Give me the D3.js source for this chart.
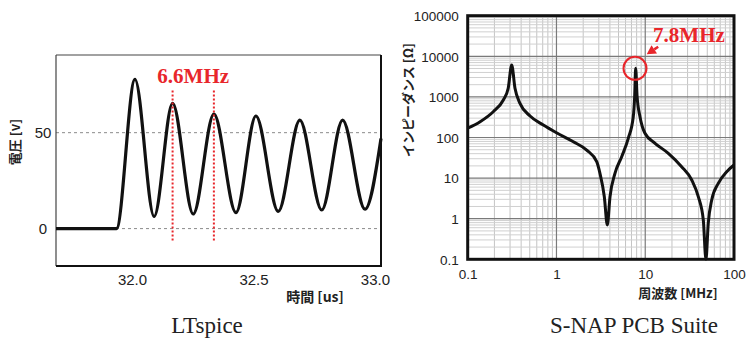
<!DOCTYPE html>
<html><head><meta charset="utf-8">
<script src="https://cdn.jsdelivr.net/npm/d3@7"></script>
<style>body{margin:0;background:#fff} svg{display:block}</style>
</head><body><svg id="c" width="748" height="340"></svg>
<script>
// ---------- Left chart (LTspice) data ----------
const timeUs  = [31.687, 31.936, 32.012, 32.091, 32.167, 32.252, 32.337, 32.428, 32.510, 32.602, 32.691, 32.781, 32.867, 32.959, 33.025];
const voltage = [0, 0, 77.8, 6.3, 65.3, 7.6, 59.7, 8.3, 58.7, 9.0, 56.6, 9.7, 56.6, 10.1, 47];
const voltTicks = [0, 50];
const timeTicks = [32.0, 32.5, 33.0];
const markerTimes = [32.167, 32.337];
const markerLabel = "6.6MHz";
const leftXTitle = "時間 [us]";
const leftYTitle = "電圧 [v]";

// ---------- Right chart (S-NAP) data ----------
const freqMHz = [0.1, 0.138, 0.194, 0.252, 0.286, 0.313, 0.341, 0.388, 0.504, 0.711, 1.0, 1.55, 2.19, 2.84, 3.09, 3.46, 3.74, 4.01, 4.56, 5.43, 6.44, 7.33, 7.6, 7.8, 8.1, 8.73, 9.93, 12.9, 18.2, 25.7, 33.4, 39.6, 45.1, 48.3, 51.3, 56.1, 66.5, 82.8, 100];
const impedance = [169, 245, 432, 839, 1630, 6100, 1630, 695, 339, 203, 131, 78.8, 49, 25.4, 13.1, 3.48, 0.70, 3.48, 13.1, 33.7, 95.5, 325, 1010, 5060, 1010, 325, 127, 72, 40.8, 19.1, 8.98, 3.48, 0.93, 0.1, 0.78, 2.89, 7.45, 14.4, 21];
const freqTicks = [0.1, 1, 10, 100];
const freqTickLabels = ["0.1", "1", "10", "100"];
const impTicks = [0.1, 1, 10, 100, 1000, 10000, 100000];
const impTickLabels = ["0.1", "1", "10", "100", "1000", "10000", "100000"];
const peakLabel = "7.8MHz";
const rightXTitle = "周波数 [MHz]";
const rightYTitle = "インピーダンス [Ω]";
const captions = ["LTspice", "S-NAP PCB Suite"];

const svg = d3.select("#c");
const RED = "#e8262b";
const JP = "'Noto Sans CJK JP', 'Noto Sans', sans-serif";
const SANS = "'Liberation Sans', Arial, sans-serif";
const SERIF = "'Liberation Serif', 'Times New Roman', serif";

// ================= LEFT =================
const L = {l: 56, t: 55, r: 381, b: 266};
const x1 = d3.scaleLinear().domain([31.687, 33.025]).range([L.l, L.r]);
const y1 = d3.scaleLinear().domain([-19.5, 90.5]).range([L.b, L.t]);
const g1 = svg.append("g");

g1.append("rect").attr("x", L.l).attr("y", L.t).attr("width", L.r - L.l).attr("height", L.b - L.t).attr("fill", "#fff");

// dashed grid
g1.selectAll(".hg").data(voltTicks).join("line")
  .attr("x1", L.l).attr("x2", L.r).attr("y1", d => y1(d)).attr("y2", d => y1(d))
  .attr("stroke", "#8a8a8a").attr("stroke-width", 1).attr("stroke-dasharray", "3,3");

// frame
g1.append("line").attr("x1", L.l).attr("x2", L.l).attr("y1", L.t).attr("y2", L.b).attr("stroke", "#444").attr("stroke-width", 1.2);
g1.append("line").attr("x1", L.l).attr("x2", L.r).attr("y1", L.t).attr("y2", L.t).attr("stroke", "#444").attr("stroke-width", 1.2);
g1.append("line").attr("x1", L.r).attr("x2", L.r).attr("y1", L.t).attr("y2", L.b).attr("stroke", "#111").attr("stroke-width", 2);
g1.append("line").attr("x1", L.l).attr("x2", L.r + 1).attr("y1", L.b).attr("y2", L.b).attr("stroke", "#111").attr("stroke-width", 2.2);

// axes (labels via d3 axes)
const xAx1 = d3.axisBottom(x1).tickValues(timeTicks).tickFormat(d3.format(".1f")).tickSize(0).tickPadding(0);
const gx1 = g1.append("g").attr("transform", `translate(0,${L.b})`).call(xAx1);
gx1.select(".domain").remove();
gx1.selectAll("text").attr("dy", 0).attr("y", 19).attr("font-family", SANS).attr("font-size", 15).attr("fill", "#222");

const yAx1 = d3.axisLeft(y1).tickValues(voltTicks).tickSize(0).tickPadding(0);
const gy1 = g1.append("g").attr("transform", `translate(${L.l},0)`).call(yAx1);
gy1.select(".domain").remove();
gy1.selectAll("text").attr("x", -13).attr("text-anchor", "middle").attr("dy", "0.35em").attr("font-family", SANS).attr("font-size", 15).attr("fill", "#222");

// waveform
const line1 = d3.line().x((d, i) => x1(timeUs[i])).y((d, i) => y1(voltage[i])).curve(d3.curveMonotoneX);
g1.append("path").attr("d", line1(voltage)).attr("fill", "none").attr("stroke", "#111").attr("stroke-width", 3.2).attr("stroke-linejoin", "round");

// red markers
g1.selectAll(".mk").data(markerTimes).join("line")
  .attr("x1", d => x1(d)).attr("x2", d => x1(d)).attr("y1", y1(72)).attr("y2", y1(-6.8))
  .attr("stroke", RED).attr("stroke-width", 2).attr("stroke-dasharray", "2,2");
g1.append("text").attr("x", x1(d3.mean(markerTimes))).attr("y", y1(76))
  .attr("text-anchor", "middle").attr("font-family", SERIF).attr("font-weight", "bold").attr("font-size", 21)
  .attr("fill", RED).text(markerLabel);

// titles
g1.append("text").attr("x", 315).attr("y", 302).attr("text-anchor", "middle")
  .attr("font-family", JP).attr("font-weight", "bold").attr("font-size", 14).attr("fill", "#222").text(leftXTitle);
g1.append("text").attr("transform", "translate(20,142) rotate(-90)").attr("text-anchor", "middle")
  .attr("font-family", JP).attr("font-weight", "bold").attr("font-size", 13).attr("fill", "#222").text(leftYTitle);

// ================= RIGHT =================
const R = {l: 467.7, t: 15.7, r: 734, b: 259.3};
const x2 = d3.scaleLog().domain([0.1, 100]).range([R.l, R.r]);
const y2 = d3.scaleLog().domain([0.1, 100000]).range([R.b, R.t]);
const g2 = svg.append("g");
g2.append("rect").attr("x", R.l).attr("y", R.t).attr("width", R.r - R.l).attr("height", R.b - R.t).attr("fill", "#fff");

const minorX = [], minorY = [];
[0.1, 1, 10].forEach(d => { for (let m = 2; m <= 9; m++) minorX.push(d * m); });
[0.1, 1, 10, 100, 1000, 10000].forEach(d => { for (let m = 2; m <= 9; m++) minorY.push(d * m); });

g2.selectAll(".mx").data(minorX).join("line")
  .attr("x1", d => x2(d)).attr("x2", d => x2(d)).attr("y1", R.t).attr("y2", R.b)
  .attr("stroke", "#c4c4c4").attr("stroke-width", 1);
g2.selectAll(".my").data(minorY).join("line")
  .attr("x1", R.l).attr("x2", R.r).attr("y1", d => y2(d)).attr("y2", d => y2(d))
  .attr("stroke", "#d0d0d0").attr("stroke-width", 1);
g2.selectAll(".Mx").data(freqTicks).join("line")
  .attr("x1", d => x2(d)).attr("x2", d => x2(d)).attr("y1", R.t).attr("y2", R.b)
  .attr("stroke", "#7a7a7a").attr("stroke-width", 1.2);
g2.selectAll(".My").data(impTicks).join("line")
  .attr("x1", R.l).attr("x2", R.r).attr("y1", d => y2(d)).attr("y2", d => y2(d))
  .attr("stroke", "#7a7a7a").attr("stroke-width", 1.2);

// curve
const line2 = d3.line().x((d, i) => x2(freqMHz[i])).y((d, i) => y2(impedance[i])).curve(d3.curveMonotoneX);
g2.append("path").attr("d", line2(impedance)).attr("fill", "none").attr("stroke", "#111").attr("stroke-width", 3).attr("stroke-linejoin", "round");

// frame
g2.append("rect").attr("x", R.l).attr("y", R.t).attr("width", R.r - R.l).attr("height", R.b - R.t)
  .attr("fill", "none").attr("stroke", "#111").attr("stroke-width", 3);

// axes
const xAx2 = d3.axisBottom(x2).tickValues(freqTicks).tickFormat((d, i) => freqTickLabels[i]).tickSize(0).tickPadding(0);
const gx2 = g2.append("g").attr("transform", `translate(0,${R.b})`).call(xAx2);
gx2.select(".domain").remove();
gx2.selectAll("text").attr("dy", 0).attr("y", 20).attr("font-family", SANS).attr("font-size", 13.5).attr("fill", "#222");

const yAx2 = d3.axisLeft(y2).tickValues(impTicks).tickFormat((d, i) => impTickLabels[i]).tickSize(0).tickPadding(0);
const gy2 = g2.append("g").attr("transform", `translate(${R.l},0)`).call(yAx2);
gy2.select(".domain").remove();
gy2.selectAll("text").attr("x", -9).attr("dy", "0.35em").attr("font-family", SANS).attr("font-size", 13.5).attr("fill", "#222");

// annotation
g2.append("circle").attr("cx", x2(7.67)).attr("cy", y2(5060)).attr("r", 11.5)
  .attr("fill", "none").attr("stroke", RED).attr("stroke-width", 2);
const tail = [x2(14.0), y2(17200)], tip = [x2(10.4), y2(11200)];
const ang = Math.atan2(tip[1] - tail[1], tip[0] - tail[0]);
const hl = 9, hw = 5;
const base = [tip[0] - hl * Math.cos(ang), tip[1] - hl * Math.sin(ang)];
g2.append("line").attr("x1", tail[0]).attr("y1", tail[1]).attr("x2", base[0]).attr("y2", base[1])
  .attr("stroke", RED).attr("stroke-width", 2.5);
g2.append("path").attr("d", `M${tip[0]},${tip[1]} L${base[0] - hw * Math.sin(ang)},${base[1] + hw * Math.cos(ang)} L${base[0] + hw * Math.sin(ang)},${base[1] - hw * Math.cos(ang)} Z`)
  .attr("fill", RED);
g2.append("text").attr("x", x2(31.1)).attr("y", y2(22900)).attr("text-anchor", "middle")
  .attr("font-family", SERIF).attr("font-weight", "bold").attr("font-size", 21).attr("fill", RED).text(peakLabel);

// titles
g2.append("text").attr("x", 678).attr("y", 298).attr("text-anchor", "middle")
  .attr("font-family", JP).attr("font-weight", "bold").attr("font-size", 13).attr("fill", "#222").text(rightXTitle);
g2.append("text").attr("transform", "translate(413,100) rotate(-90)").attr("text-anchor", "middle")
  .attr("font-family", JP).attr("font-weight", "bold").attr("font-size", 13).attr("fill", "#222").text(rightYTitle);

// captions
svg.selectAll(".cap").data(captions).join("text")
  .attr("x", (d, i) => [207, 634][i]).attr("y", 333).attr("text-anchor", "middle")
  .attr("font-family", SERIF).attr("font-size", 23).attr("fill", "#222").text(d => d);
</script></body></html>
